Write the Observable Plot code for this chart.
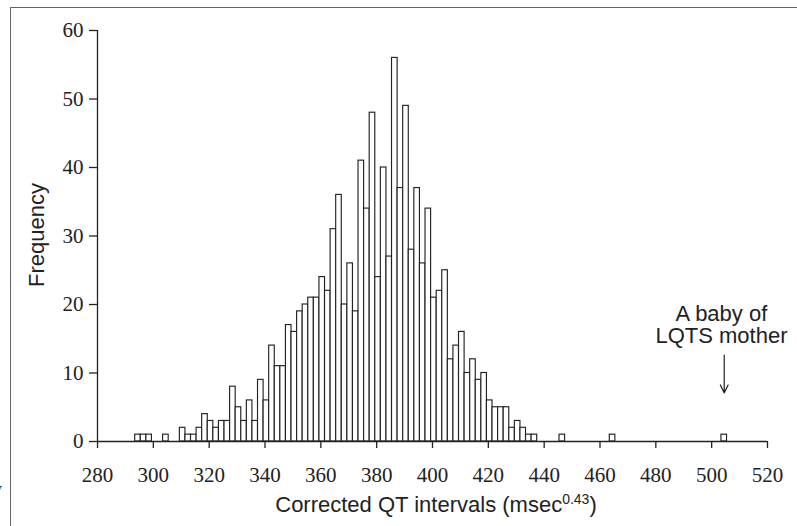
<!DOCTYPE html>
<html>
<head>
<meta charset="utf-8">
<script src="https://cdn.jsdelivr.net/npm/d3@7"></script>
<script src="https://cdn.jsdelivr.net/npm/@observablehq/plot@0.6"></script>
<style>
  html, body { margin: 0; padding: 0; background: #fff; }
  #wrap { position: relative; width: 797px; height: 526px; overflow: hidden; }
  #frame { position: absolute; left: 10px; top: 7px; width: 800px; height: 540px;
           border-left: 1.5px solid #666; border-top: 1.5px solid #666; }
  .stray { position: absolute; font-family: "Liberation Serif", serif; font-size: 20px; color: #333; }
  #chart { position: absolute; left: 0; top: 0; }
  #chart g[aria-label="x-axis tick label"] text,
  #chart g[aria-label="y-axis tick label"] text { font-family: "Liberation Serif", "Times New Roman", serif; font-size: 21px; }
</style>
</head>
<body>
<div id="wrap">
  <div id="frame"></div>
  <div class="stray" style="left:-7px; top:420px;">f</div>
  <div class="stray" style="left:-8px; top:478px;">y</div>
  <div id="chart"></div>
</div>
<script>
// Histogram bins (left edges, width 2) with non-zero frequencies
const binWidth = 2;
const binStart = [293.5,295.5,297.5,303.5,
  309.5,311.5,313.5,315.5,317.5,319.5,321.5,323.5,325.5,327.5,
  329.5,331.5,333.5,335.5,337.5,339.5,341.5,343.5,345.5,347.5,
  349.5,351.5,353.5,355.5,357.5,359.5,361.5,363.5,365.5,367.5,
  369.5,371.5,373.5,375.5,377.5,379.5,381.5,383.5,385.5,387.5,
  389.5,391.5,393.5,395.5,397.5,399.5,401.5,403.5,405.5,407.5,
  409.5,411.5,413.5,415.5,417.5,419.5,421.5,423.5,425.5,427.5,
  429.5,431.5,433.5,435.5,
  445.5,463.5,503.5];
const counts = [1,1,1,1,
  2,1,1,2,4,3,2,3,3,8,
  5,3,6,3,9,6,14,11,11,17,
  16,19,20,21,21,24,22,31,36,20,
  26,19,41,34,48,24,40,27,56,37,
  49,28,37,26,34,21,22,25,12,14,
  16,10,12,9,10,6,5,5,5,2,
  3,2,1,1,
  1,1,1];
const xTicks = [280,300,320,340,360,380,400,420,440,460,480,500,520];
const yTicks = [0,10,20,30,40,50,60];
const xTitle = "Corrected QT intervals (msec";
const xTitleSup = "0.43";
const yTitle = "Frequency";
const noteText = "A baby of\nLQTS mother";
const noteX = [503.5];
const noteY = [17];
const arrowX = [504.5];
const arrowFrom = [12.6];
const arrowTo = [7.1];

const bins = binStart.map((s, i) => ({x1: s, x2: s + binWidth, count: counts[i]}));
const arrows = arrowX.map((x, i) => ({x, y1: arrowFrom[i], y2: arrowTo[i]}));
const notes = noteX.map((x, i) => ({x, y: noteY[i], text: noteText}));

const ink = "#222";
const serif = "'Liberation Serif', 'Times New Roman', serif";
const sans = "'Liberation Sans', Arial, Helvetica, sans-serif";

const chart = Plot.plot({
  width: 797,
  height: 526,
  marginLeft: 97,
  marginRight: 30,
  marginTop: 30,
  marginBottom: 85,
  style: {background: "transparent", color: ink, overflow: "visible"},
  x: {domain: [280, 520]},
  y: {domain: [0, 60]},
  marks: [
    Plot.rectY(bins, {x1: "x1", x2: "x2", y: "count", fill: "white", stroke: ink, strokeWidth: 1.15, inset: 0}),
    Plot.ruleY([0], {stroke: ink, strokeWidth: 1.3}),
    Plot.ruleX([280], {y1: 0, y2: 60, stroke: ink, strokeWidth: 1.3}),
    Plot.axisX({ticks: xTicks, tickSize: 7, tickPadding: 19, tickFormat: d => String(d),
      fontSize: 21, fontFamily: serif, label: null, stroke: ink, strokeWidth: 1.3}),
    Plot.axisY({ticks: yTicks, tickSize: 8, tickPadding: 6, tickFormat: d => String(d),
      fontSize: 21, fontFamily: serif, label: null, stroke: ink, strokeWidth: 1.3}),
    Plot.text(notes, {x: "x", y: "y", text: "text", fontSize: 22, fontFamily: sans,
      lineHeight: 1.0, fill: ink, textAnchor: "middle"}),
    Plot.arrow(arrows, {x1: "x", x2: "x", y1: "y1", y2: "y2", stroke: ink, strokeWidth: 1.2,
      headLength: 11, headAngle: 52})
  ]
});

const svg = d3.select(chart);
svg.selectAll('g[aria-label="x-axis tick label"], g[aria-label="y-axis tick label"]')
  .attr("font-family", serif).attr("font-size", 21);

const xs = chart.scale("x");
const cx = (xs.range[0] + xs.range[1]) / 2 + 4;
const t = svg.append("text")
  .attr("x", cx).attr("y", 512)
  .attr("text-anchor", "middle")
  .attr("font-family", sans).attr("font-size", 22).attr("fill", ink);
t.append("tspan").text(xTitle);
t.append("tspan").attr("font-size", 14).attr("dy", -8).text(xTitleSup);
t.append("tspan").attr("dy", 8).text(")");

svg.append("text")
  .attr("transform", "translate(44,235) rotate(-90)")
  .attr("text-anchor", "middle")
  .attr("font-family", sans).attr("font-size", 22).attr("fill", ink)
  .text(yTitle);

document.getElementById("chart").appendChild(chart);
</script>
</body>
</html>
